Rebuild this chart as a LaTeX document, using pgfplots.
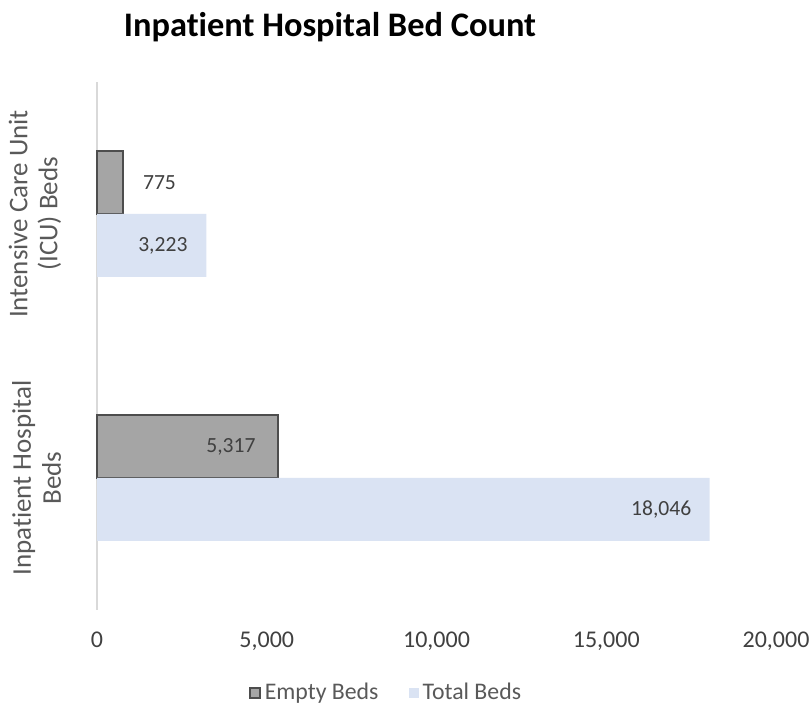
\documentclass[border=0pt]{standalone}
\usepackage{fontspec}
\setmainfont{Carlito}[Ligatures=NoCommon]
\usepackage{pgfplots}
\usepackage{pgfplotstable}
\pgfplotsset{compat=1.18}

\definecolor{emptyfill}{HTML}{A5A5A5}
\definecolor{emptyline}{HTML}{4D4D4D}
\definecolor{totalfill}{HTML}{DAE3F3}
\definecolor{axisgray}{HTML}{D9D9D9}
\definecolor{txt}{HTML}{404040}
\definecolor{lighttxt}{HTML}{595959}

% y: 1 = ICU beds, 0 = inpatient beds; dx = offset (pt) of the value label's right edge from the bar end
\pgfplotstableread{
y x dx
1 775 26.8
0 5317 -10.5
}\emptybeds
\pgfplotstableread{
y x dx
1 3223 -9.3
0 18046 -9
}\totalbeds

\begin{document}
\begin{tikzpicture}
\begin{axis}[
    scale only axis,
    width=339.5pt, height=264pt,
    xbar, bar width=0.2386,
    xmin=0, xmax=20000,
    ymin=-0.5, ymax=1.5,
    xtick={0,5000,10000,15000,20000},
    ytick={0,1},
    yticklabels={{Inpatient Hospital\\Beds},{Intensive Care Unit\\(ICU) Beds}},
    scaled x ticks=false,
    /pgf/number format/1000 sep={,},
    /pgf/number format/assume math mode=true,
    axis x line*=bottom, axis y line*=left,
    x axis line style={draw=none},
    y axis line style={draw=axisgray, line width=0.6pt},
    tick style={draw=none},
    xticklabel style={font=\fontsize{12}{14}\selectfont, text=txt, yshift=-7.5pt},
    yticklabel style={font=\fontsize{13.5}{15}\selectfont, text=lighttxt, align=center,
        inner sep=0pt, xshift=-13.5pt, rotate=90, anchor=south},
    clip=false,
    point meta=x,
    nodes near coords,
    visualization depends on={\thisrow{dx} \as \mydx},
    every node near coord/.append style={anchor=east, inner sep=0pt, xshift=\mydx pt,
        font=\fontsize{10.8}{12}\selectfont, text=txt},
    legend style={at={(0.427,-0.157)}, anchor=center, draw=none, fill=none,
        font=\fontsize{11.9}{14}\selectfont, text=lighttxt,
        /tikz/every even column/.append style={column sep=13pt}},
    legend columns=2,
    legend image code/.code={\path[#1] (0pt,-2.5pt) rectangle (5pt,2.5pt);},
]
\addplot[fill=emptyfill, draw=emptyline, line width=1pt, bar shift=0.1193]
    table[x=x, y=y] {\emptybeds};
\addplot[fill=totalfill, draw=none, bar shift=-0.1193]
    table[x=x, y=y] {\totalbeds};
\legend{Empty Beds, Total Beds}

\node[anchor=base, font=\bfseries\fontsize{17.2}{20}\selectfont, text=black]
    at (rel axis cs:0.343,1.087) {Inpatient Hospital Bed Count};
\coordinate (bl) at (rel axis cs:-0.1429,-0.1875);
\coordinate (tr) at (rel axis cs:1.0515,1.1553);
\end{axis}
\pgfresetboundingbox
\path (bl) rectangle (tr);
\end{tikzpicture}
\end{document}
